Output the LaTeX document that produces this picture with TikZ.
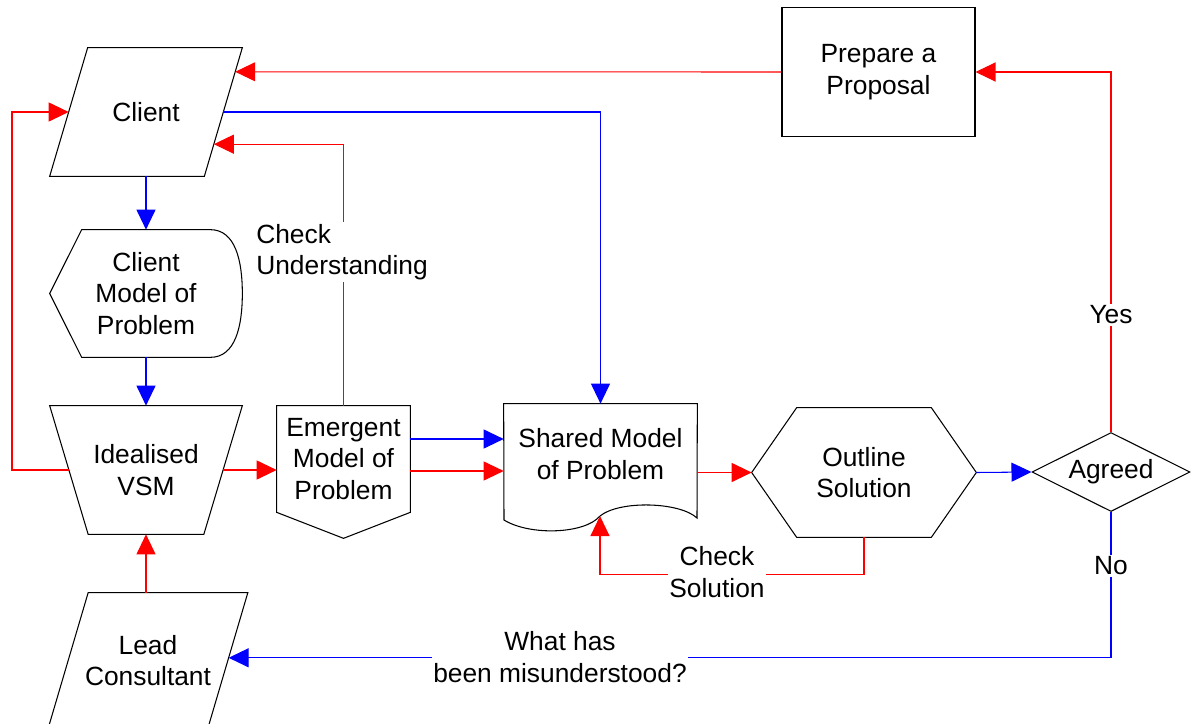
\documentclass[tikz,border=0pt]{standalone}
\usepackage{fontspec}
\setmainfont{Liberation Sans}
\usetikzlibrary{shapes.geometric,arrows.meta,calc}
\tikzset{
  txt/.style={align=center,font=\fontsize{15}{18}\selectfont},
  shp/.style={txt,draw,line width=0.6pt,inner sep=0pt},
  plain/.style={txt,inner sep=0pt},
  outl/.style={line width=0.6pt},
  redarr/.style={red,line width=0.6pt,-{Triangle[length=0.4cm,width=0.38cm]}},
  bluearr/.style={blue,line width=0.6pt,-{Triangle[length=0.4cm,width=0.38cm]}},
  lbl/.style={txt,fill=white,inner sep=1pt}
}
\begin{document}
\begin{tikzpicture}[x=0.02cm,y=-0.02cm]
  \useasboundingbox (0,0) rectangle (1191,724);
  \node[plain,minimum width=3.84cm,minimum height=2.56cm] (client) at (146,112) {Client};
  \draw[outl] ([xshift=0.76cm]client.north west) coordinate (cltl) -- (client.north east) coordinate (cltr)
    -- ([xshift=-0.76cm]client.south east) coordinate (clbr) -- (client.south west) coordinate (clbl) -- cycle;
  \node[plain,minimum width=3.84cm,minimum height=2.54cm] (cmodel) at (146,293.5) {Client\\Model of\\Problem};
  \draw[outl] (cmodel.west) -- ([xshift=0.64cm]cmodel.north west)
    -- ([xshift=-0.64cm]cmodel.north east)
    .. controls ([xshift=-0.14cm]cmodel.north east) and ([yshift=0.66cm]cmodel.east) .. (cmodel.east)
    .. controls ([yshift=-0.66cm]cmodel.east) and ([xshift=-0.14cm]cmodel.south east) .. ([xshift=-0.64cm]cmodel.south east)
    -- ([xshift=0.64cm]cmodel.south west) -- cycle;
  \node[plain,minimum width=3.84cm,minimum height=2.56cm] (ideal) at (146,470) {Idealised\\VSM};
  \draw[outl] (ideal.north west) coordinate (idtl) -- (ideal.north east) coordinate (idtr)
    -- ([xshift=-0.77cm]ideal.south east) coordinate (idbr) -- ([xshift=0.77cm]ideal.south west) coordinate (idbl) -- cycle;
  \node[plain,minimum width=3.98cm,minimum height=2.7cm] (lead) at (148,660.5) {Lead\\Consultant};
  \draw[outl] ([xshift=0.8cm]lead.north west) coordinate (ldtl) -- (lead.north east) coordinate (ldtr)
    -- ([xshift=-0.8cm]lead.south east) coordinate (ldbr) -- (lead.south west) coordinate (ldbl) -- cycle;
  \node[plain,minimum width=2.66cm,minimum height=2.12cm] (emerg) at (343.5,459) {Emergent\\Model of\\Problem};
  \draw[outl] (emerg.north west) -- (emerg.north east) -- (emerg.south east)
    -- ([yshift=-0.52cm]emerg.south) -- (emerg.south west) -- cycle;
  \node[plain,minimum width=3.86cm,minimum height=2cm] (shared) at (600.5,454) {Shared Model\\of Problem};
  \draw[outl] (shared.north west) -- (shared.north east) -- (697,518)
    .. controls (680,502) and (620,500) .. (600,516) coordinate (dip)
    .. controls (585,534) and (530,536) .. (504,520) -- cycle;
  \node[plain,minimum width=4.48cm,minimum height=2.58cm] (outline) at (864,472.5) {Outline\\Solution};
  \draw[outl] (outline.west) -- ([xshift=0.9cm]outline.north west)
    -- ([xshift=-0.9cm]outline.north east) -- (outline.east)
    -- ([xshift=-0.9cm]outline.south east) -- ([xshift=0.9cm]outline.south west) -- cycle;
  \node[shp,diamond,aspect=2,minimum width=3.16cm,minimum height=1.58cm] (agreed) at (1111,472) {Agreed};
  \node[shp,minimum width=3.86cm,minimum height=2.58cm] (prep) at (878.5,72) {Prepare a\\Proposal};
  \coordinate (back) at (12,112);
  \coordinate (clprep) at ($(cltr)!0.1875!(clbr)$);
  \coordinate (clright) at ($(cltr)!0.5!(clbr)$);
  \coordinate (clcheck) at ($(cltr)!0.75!(clbr)$);
  \coordinate (clleft) at ($(cltl)!0.5!(clbl)$);
  \coordinate (idleft) at ($(idtl)!0.5!(idbl)$);
  \coordinate (idright) at ($(idtr)!0.5!(idbr)$);
  \coordinate (ldright) at ($(ldtr)!0.48!(ldbr)$);
  \draw[redarr] (prep.west) -- (clprep);
  \draw[bluearr] (clright) -| (shared.north);
  \draw[redarr] (emerg.north) |- (clcheck);
  \draw[bluearr] (client.south) -- (cmodel.north);
  \draw[bluearr] (cmodel.south) -- (ideal.north);
  \draw[redarr] (ldtl -| ideal.south) -- (ideal.south);
  \draw[redarr] (idleft) -| (back) -- (clleft);
  \draw[redarr] (idright) -- (idright -| emerg.west);
  \draw[bluearr] ([yshift=0.4cm]emerg.east) -- ([yshift=0.4cm]emerg.east -| shared.west);
  \draw[redarr] ([yshift=-0.24cm]emerg.east) -- ([yshift=-0.24cm]emerg.east -| shared.west);
  \draw[redarr] (outline.west -| shared.east) -- (outline.west);
  \draw[bluearr] (outline.east) -- (agreed.west);
  \draw[redarr] (outline.south) -- ++(0,37) -| (dip);
  \draw[redarr] (agreed.north) |- (prep.east);
  \draw[bluearr] (agreed.south) |- (ldright);
  \node[lbl,align=left] (chku) at (342,252) {Check\\Understanding};
  \node[lbl] (chks) at (717,572) {Check\\Solution};
  \node[lbl] (yes) at (1111,315) {Yes};
  \node[lbl] (no) at (1111,566) {No};
  \node[lbl] (what) at (560,657) {What has\\been misunderstood?};
\end{tikzpicture}
\end{document}
